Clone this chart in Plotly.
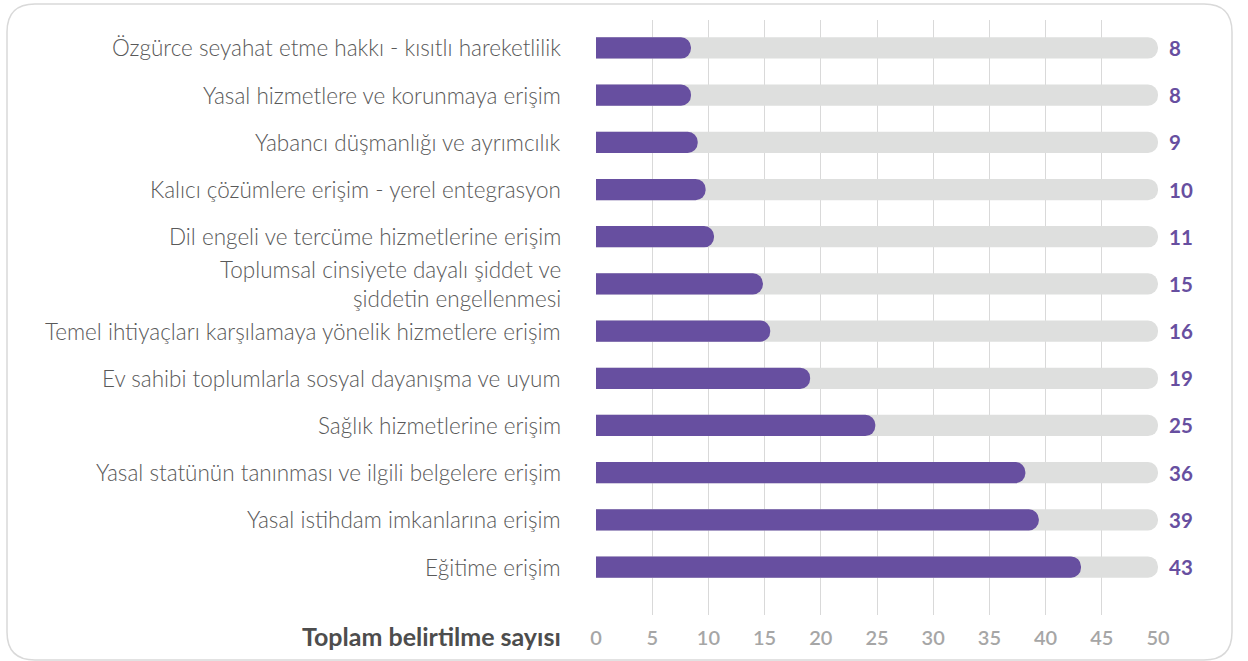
import plotly.graph_objects as go

categories = [
    "Özgürce seyahat etme hakkı - kısıtlı hareketlilik",
    "Yasal hizmetlere ve korunmaya erişim",
    "Yabancı düşmanlığı ve ayrımcılık",
    "Kalıcı çözümlere erişim - yerel entegrasyon",
    "Dil engeli ve tercüme hizmetlerine erişim",
    "Toplumsal cinsiyete dayalı şiddet ve<br>şiddetin engellenmesi",
    "Temel ihtiyaçları karşılamaya yönelik hizmetlere erişim",
    "Ev sahibi toplumlarla sosyal dayanışma ve uyum",
    "Sağlık hizmetlerine erişim",
    "Yasal statünün tanınması ve ilgili belgelere erişim",
    "Yasal istihdam imkanlarına erişim",
    "Eğitime erişim",
]
bar_values = [8.45, 8.45, 9.05, 9.75, 10.5, 14.85, 15.5, 19.05, 24.85, 38.2, 39.4, 43.15]
value_labels = ["8", "8", "9", "10", "11", "15", "16", "19", "25", "36", "39", "43"]
max_value = 50
x_ticks = [0, 5, 10, 15, 20, 25, 30, 35, 40, 45, 50]
axis_title = "Toplam belirtilme sayısı"

PURPLE = "#674FA0"
GREY_BAR = "#DEDFDE"
W, H = 1248, 661
ML, MR, MT, MB = 596, 90, 20, 46
PW, PH = W - ML - MR, H - MT - MB
Y_RANGE = [12.017, -0.593]

def px(x):
    return (x - ML) / PW

def py(y):
    return (H - MB - y) / PH

pos = list(range(len(categories)))

fig = go.Figure()
fig.add_trace(go.Bar(
    y=pos, x=[max_value] * len(pos), orientation="h",
    marker=dict(color=GREY_BAR, cornerradius="50%", line=dict(width=0)),
    width=0.45, hoverinfo="skip", showlegend=False, yaxis="y",
))
fig.add_trace(go.Bar(
    y=pos, x=bar_values, orientation="h",
    marker=dict(color=PURPLE, cornerradius="50%", line=dict(width=0)),
    width=0.45, showlegend=False, yaxis="y2",
))

LABEL_FONT = dict(family="Lato", size=22.5, color="#595959", weight=300)
annotations = []
for i, (c, v) in enumerate(zip(categories, value_labels)):
    annotations.append(dict(
        x=0, xref="paper", y=i, yref="y", xanchor="right", yanchor="middle",
        xshift=-33, text=c, showarrow=False, align="right", font=LABEL_FONT,
    ))
    annotations.append(dict(
        x=max_value, xref="x", y=i, yref="y", xanchor="left", yanchor="middle",
        xshift=9, text=v, showarrow=False,
        font=dict(family="Lato", size=20.5, color=PURPLE, weight=700),
    ))
annotations.append(dict(
    x=0, xref="paper", y=py(636), yref="paper", xanchor="right", yanchor="middle",
    xshift=-33, text=axis_title, showarrow=False,
    font=dict(family="Lato", size=25, color="#4D4D4D", weight=700),
))

# rounded border
x0, x1, y0, y1 = px(7), px(1232), py(660), py(4)
rx = 28 / PW
ry = 28 / PH
path = (f"M {x0+rx},{y1} L {x1-rx},{y1} Q {x1},{y1} {x1},{y1-ry} "
        f"L {x1},{y0+ry} Q {x1},{y0} {x1-rx},{y0} L {x0+rx},{y0} "
        f"Q {x0},{y0} {x0},{y0+ry} L {x0},{y1-ry} Q {x0},{y1} {x0+rx},{y1} Z")

fig.update_layout(
    width=W, height=H,
    margin=dict(l=ML, r=MR, t=MT, b=MB),
    paper_bgcolor="white", plot_bgcolor="white",
    barmode="overlay",
    xaxis=dict(range=[0, max_value], tickvals=x_ticks, showgrid=True,
               gridcolor="#D9D9D9", gridwidth=1, zeroline=False, showline=False,
               ticks="outside", ticklen=5, tickcolor="rgba(0,0,0,0)",
               tickfont=dict(family="Lato", size=20, color="#A6A6A6", weight=600),
               fixedrange=True),
    yaxis=dict(range=Y_RANGE, showticklabels=False, showgrid=False,
               zeroline=False, fixedrange=True),
    yaxis2=dict(range=Y_RANGE, overlaying="y", showticklabels=False, showgrid=False,
                zeroline=False, fixedrange=True, visible=False),
    annotations=annotations,
    shapes=[dict(type="path", path=path, xref="paper", yref="paper",
                 line=dict(color="#D9D9D9", width=1.5), layer="below")],
)

fig.write_html("out.html", config={"displayModeBar": False},
               post_script="document.body.style.margin='0';document.body.style.overflow='hidden';")
